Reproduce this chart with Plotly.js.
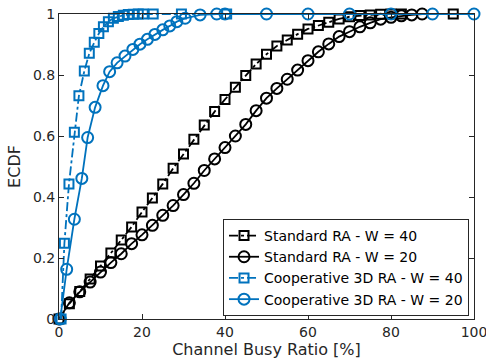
<!DOCTYPE html>
<html>
<head>
<meta charset="utf-8">
<script src="https://cdn.plot.ly/plotly-3.0.1.min.js"></script>
<style>html,body{margin:0;padding:0;background:#fff;}#chart{width:486px;height:364px;}</style>
</head>
<body>
<div id="chart"></div>
<script>
// Standard RA - W = 40
var stdW40X = [0, 2.5, 5, 7.5, 10, 12.5, 15, 17.5, 20, 22.5, 25, 27.5, 30, 32.5, 35, 37.5, 40, 42.5, 45, 47.5, 50, 52.5, 55, 57.5, 60, 62.5, 65, 67.5, 70, 72.5, 75, 77.5, 80, 82.5, 95];
var stdW40Y = [0, 0.05, 0.09, 0.131, 0.174, 0.216, 0.259, 0.302, 0.351, 0.397, 0.443, 0.494, 0.541, 0.589, 0.636, 0.680, 0.720, 0.760, 0.798, 0.836, 0.868, 0.895, 0.915, 0.934, 0.951, 0.962, 0.973, 0.984, 0.991, 0.995, 0.997, 0.999, 1, 1, 1];
// Standard RA - W = 20
var stdW20X = [0, 2.5, 5, 7.5, 10, 12.5, 15, 17.5, 20, 22.5, 25, 27.5, 30, 32.5, 35, 37.5, 40, 42.5, 45, 47.5, 50, 52.5, 55, 57.5, 60, 62.5, 65, 67.5, 70, 72.5, 75, 77.5, 80, 82.5, 85, 87.5];
var stdW20Y = [0, 0.053, 0.089, 0.121, 0.154, 0.185, 0.214, 0.247, 0.276, 0.307, 0.340, 0.372, 0.408, 0.445, 0.487, 0.525, 0.562, 0.600, 0.638, 0.683, 0.724, 0.756, 0.786, 0.816, 0.847, 0.876, 0.902, 0.926, 0.942, 0.958, 0.971, 0.983, 0.989, 0.994, 0.997, 1];
// Cooperative 3D RA - W = 40
var coopW40X = [0.5, 1.3, 2.4, 3.7, 4.8, 6.1, 7.3, 8.5, 9.6, 10.7, 11.9, 13.1, 14.3, 15.5, 16.7, 17.9, 19.1, 20.3, 22.7, 29.5, 40.4];
var coopW40Y = [0, 0.248, 0.443, 0.612, 0.732, 0.813, 0.871, 0.907, 0.936, 0.958, 0.975, 0.986, 0.992, 0.996, 0.998, 0.999, 1, 1, 1, 1, 1];
// Cooperative 3D RA - W = 20
var coopW20X = [0.3, 1.85, 3.7, 5.5, 6.9, 8.7, 10.6, 12.2, 14.0, 15.9, 17.8, 19.5, 21.3, 23.1, 25.0, 26.7, 28.4, 30.4, 34.0, 38.0, 40, 50, 60, 70, 80, 90, 100];
var coopW20Y = [0, 0.163, 0.327, 0.461, 0.595, 0.694, 0.765, 0.811, 0.840, 0.862, 0.884, 0.901, 0.917, 0.933, 0.948, 0.961, 0.975, 0.986, 0.997, 1, 1, 1, 1, 1, 1, 1, 1];

var seriesNames = ['Standard RA - W = 40', 'Standard RA - W = 20', 'Cooperative 3D RA - W = 40', 'Cooperative 3D RA - W = 20'];
var xTicks = [0, 20, 40, 60, 80, 100];
var yTicks = [0, 0.2, 0.4, 0.6, 0.8, 1];

var black = '#000000', blue = '#0072BD';
function tr(x, y, name, color, dash, sym, size) {
  return {x: x, y: y, name: name, type: 'scatter', mode: 'lines+markers',
    line: {color: color, width: 1.8, dash: dash},
    marker: {symbol: sym, size: size, color: color, line: {color: color, width: 2}},
    cliponaxis: false};
}
var data = [
  tr(stdW40X, stdW40Y, seriesNames[0], black, 'dashdot', 'square-open', 9),
  tr(stdW20X, stdW20Y, seriesNames[1], black, 'solid', 'circle-open', 11),
  tr(coopW40X, coopW40Y, seriesNames[2], blue, 'dashdot', 'square-open', 9),
  tr(coopW20X, coopW20Y, seriesNames[3], blue, 'solid', 'circle-open', 11)
];
var fontFam = '"DejaVu Sans", Arial, Helvetica, sans-serif';
var layout = {
  width: 486, height: 364,
  margin: {l: 59, r: 12, t: 14, b: 45},
  paper_bgcolor: '#fff', plot_bgcolor: '#fff',
  font: {family: fontFam, size: 14, color: '#262626'},
  showlegend: true,
  xaxis: {range: [0, 100], tickvals: xTicks, ticks: 'inside', ticklen: 5, tickcolor: '#262626',
    showline: true, linecolor: '#262626', linewidth: 1, mirror: 'ticks', showgrid: false, zeroline: false,
    tickfont: {size: 14, color: '#262626'}, ticklabeloverflow: 'allow',
    title: {text: 'Channel Busy Ratio [%]', font: {size: 16, color: '#262626'}, standoff: 3}},
  yaxis: {range: [0, 1], tickvals: yTicks, ticks: 'inside', ticklen: 5, tickcolor: '#262626',
    showline: true, linecolor: '#262626', linewidth: 1, mirror: 'ticks', showgrid: false, zeroline: false,
    tickfont: {size: 14, color: '#262626'},
    title: {text: 'ECDF', font: {size: 16, color: '#262626'}, standoff: 8}},
  legend: {x: 0.988, y: 0.01, xanchor: 'right', yanchor: 'bottom', bgcolor: '#fff',
    bordercolor: '#262626', borderwidth: 1, font: {size: 14, color: '#000'},
    tracegroupgap: 0, itemwidth: 30}
};
Plotly.newPlot('chart', data, layout, {displayModeBar: false, staticPlot: true});
</script>
</body>
</html>
